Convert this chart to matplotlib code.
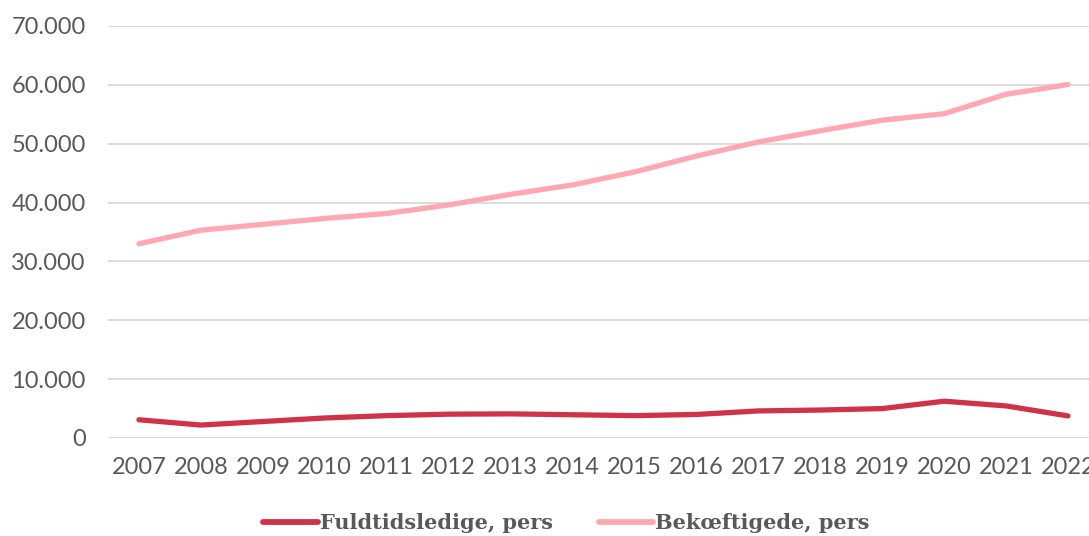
import matplotlib.pyplot as plt
from matplotlib.ticker import FuncFormatter

# Data
years = [2007, 2008, 2009, 2010, 2011, 2012, 2013, 2014,
         2015, 2016, 2017, 2018, 2019, 2020, 2021, 2022]
fuldtidsledige = [3100, 2200, 2800, 3400, 3800, 4050, 4100, 3950,
                  3800, 4000, 4600, 4750, 5000, 6250, 5450, 3750]
beskaeftigede = [33000, 35300, 36300, 37300, 38150, 39600, 41400, 43000,
                 45200, 47900, 50300, 52200, 54000, 55100, 58400, 60050]

red = "#CF3348"
pink = "#FFA8B4"
grey_txt = "#595959"

fig = plt.figure(figsize=(10.89, 5.36), dpi=100)
ax = fig.add_axes([108 / 1089, 1 - 438 / 536, (1099 - 108) / 1089, (438 - 26) / 536])

x = list(range(len(years)))
ax.plot(x, fuldtidsledige, color=red, lw=3.8, solid_capstyle="round",
        solid_joinstyle="round", label="Fuldtidsledige, pers", zorder=3)
ax.plot(x, beskaeftigede, color=pink, lw=3.8, solid_capstyle="round",
        solid_joinstyle="round", label="Bekœftigede, pers", zorder=3)

ax.set_xlim(-0.5, len(years) - 0.5)
ax.set_ylim(0, 70000)
ax.set_yticks(range(0, 70001, 10000))
ax.yaxis.set_major_formatter(FuncFormatter(lambda v, p: f"{int(v):,}".replace(",", ".")))
ax.set_xticks(x)
ax.set_xticklabels([str(y) for y in years])

ax.grid(axis="y", color="#D9D9D9", lw=1.3)
ax.set_axisbelow(True)
for s in ax.spines.values():
    s.set_visible(False)
ax.tick_params(length=0, labelsize=17, colors=grey_txt)
ax.tick_params(axis="y", pad=16)
ax.tick_params(axis="x", pad=14)
for lab in ax.get_xticklabels() + ax.get_yticklabels():
    lab.set_fontfamily("Lato")

leg = fig.legend(loc="center", bbox_to_anchor=(0.52, 1 - 523 / 536), ncol=2,
                 frameon=False, handlelength=2.6, columnspacing=2.2, handletextpad=0.1,
                 prop={"family": "DejaVu Serif", "weight": "bold", "size": 15})
for t in leg.get_texts():
    t.set_color(grey_txt)
for h in leg.get_lines():
    h.set_linewidth(4.2)

fig.savefig("out.png", dpi=100)
